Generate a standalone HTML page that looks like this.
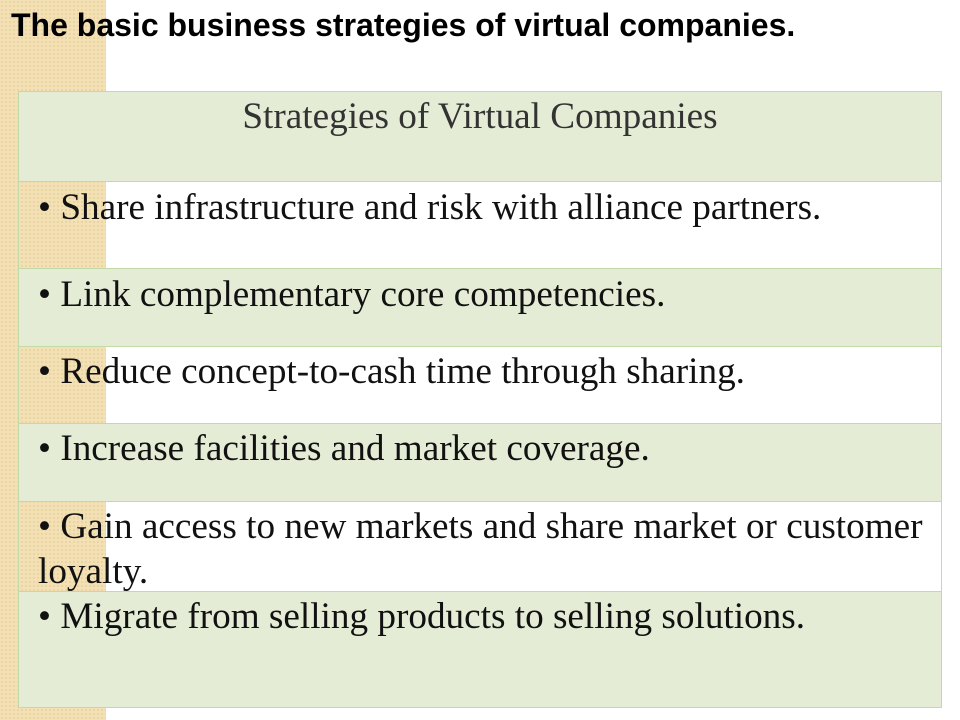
<!DOCTYPE html>
<html><head><meta charset="utf-8"><style>
body{margin:0;width:960px;height:720px;position:relative;overflow:hidden;background:#fff;font-family:"Liberation Serif",serif}
#strip{position:absolute;left:0;top:0;width:106px;height:720px;background:#f3e0b5;
background-image:radial-gradient(#e9d3a0 1px,transparent 1.2px);background-size:4px 4px}
#title{position:absolute;left:11px;top:7px;font:bold 32px "Liberation Sans",sans-serif;color:#000;white-space:nowrap}
.row{position:absolute;left:18px;width:924px;border:1px solid #c4d9a8;box-sizing:border-box;font-size:37.2px;color:#111;padding-left:19px;line-height:45px;white-space:normal}
.g{background:#e4ecd5}.w{background:transparent}
</style></head><body>
<div id="strip"></div>
<div id="title">The basic business strategies of virtual companies.</div>
<div class="row g" style="top:91px;height:91px;text-align:center;padding:0;color:#333;padding-top:2px">Strategies of Virtual Companies</div>
<div class="row w" style="top:181px;height:88px;padding-top:3px">• Share infrastructure and risk with alliance partners.</div>
<div class="row g" style="top:268px;height:79px;padding-top:3px">• Link complementary core competencies.</div>
<div class="row w" style="top:346px;height:78px;padding-top:2px">• Reduce concept-to-cash time through sharing.</div>
<div class="row g" style="top:423px;height:79px;padding-top:2px">• Increase facilities and market coverage.</div>
<div class="row w" style="top:501px;height:91px;padding-top:2px">• Gain access to new markets and share market or customer loyalty.</div>
<div class="row g" style="top:591px;height:117px;padding-top:2px">• Migrate from selling products to selling solutions.</div>
</body></html>
